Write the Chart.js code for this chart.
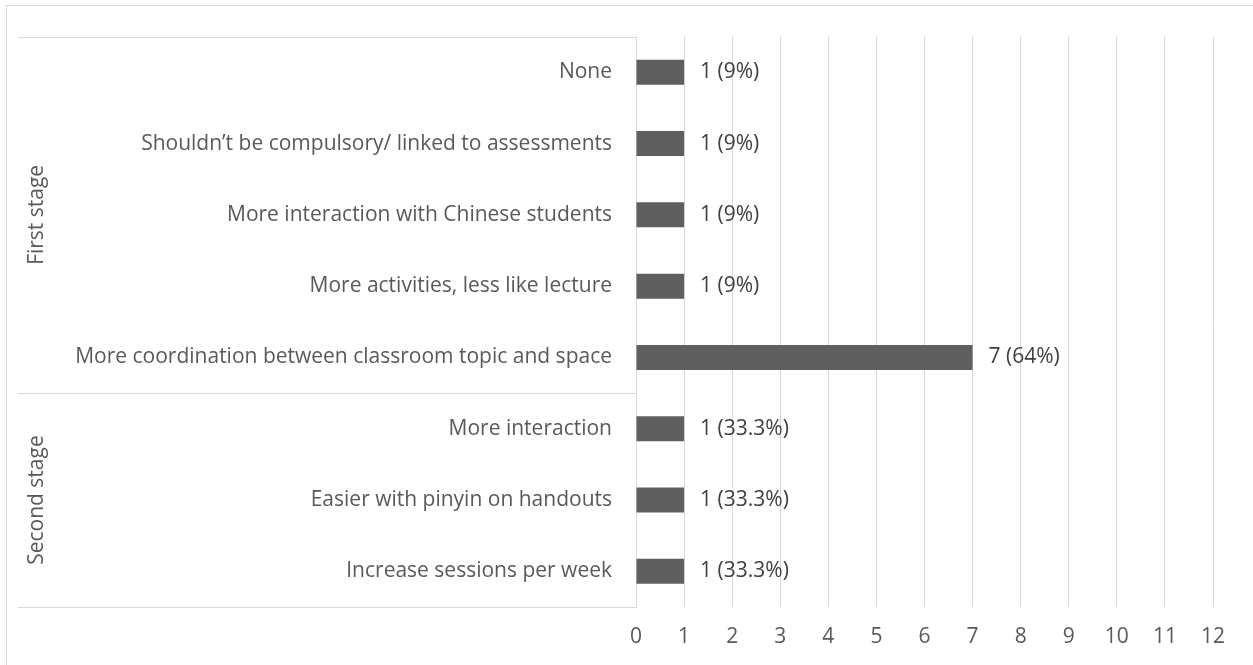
<!DOCTYPE html>
<html>
<head>
<meta charset="utf-8">
<script src="https://cdn.jsdelivr.net/npm/chart.js@4/dist/chart.umd.min.js"></script>
<style>
  html, body { margin: 0; padding: 0; background: #ffffff; }
  #wrap { position: relative; width: 1253px; height: 665px; }
</style>
</head>
<body>
<div id="wrap"><canvas id="chart" width="1253" height="665"></canvas></div>
<script>
// Chart data
const categories = [
    'None',
    'Shouldn\u2019t be compulsory/ linked to assessments',
    'More interaction with Chinese students',
    'More activities, less like lecture',
    'More coordination between classroom topic and space',
    'More interaction',
    'Easier with pinyin on handouts',
    'Increase sessions per week'
];
const counts = [1, 1, 1, 1, 7, 1, 1, 1];
const percents = ['9%', '9%', '9%', '9%', '64%', '33.3%', '33.3%', '33.3%'];
const groupNames = ['First stage', 'Second stage'];
const groupSizes = [5, 3];
const xTicks = [0, 1, 2, 3, 4, 5, 6, 7, 8, 9, 10, 11, 12];

const FONT = '"Open Sans", sans-serif';
const FONT_SIZE = 21;
const LINE = '#d9d9d9';

// Value labels at the bar ends
const valueLabels = {
    id: 'valueLabels',
    afterDatasetsDraw(chart) {
        const ctx = chart.ctx;
        const meta = chart.getDatasetMeta(0);
        ctx.save();
        ctx.font = FONT_SIZE + 'px ' + FONT;
        ctx.fillStyle = '#404040';
        ctx.textAlign = 'left';
        ctx.textBaseline = 'middle';
        meta.data.forEach((bar, i) => {
            ctx.fillText(counts[i] + ' (' + percents[i] + ')', bar.x + 16, bar.y);
        });
        ctx.restore();
    }
};

// Group brackets and rotated group names, plus the outer frame
const groupAxis = {
    id: 'groupAxis',
    afterDraw(chart) {
        const ctx = chart.ctx;
        const area = chart.chartArea;
        const catH = (area.bottom - area.top) / categories.length;
        ctx.save();
        ctx.strokeStyle = LINE;
        ctx.lineWidth = 1;

        // outer frame (right and bottom edges fall outside the picture)
        ctx.strokeRect(6.5, 5.5, 1260, 680);

        let idx = 0;
        const bounds = [area.top];
        groupSizes.forEach(n => { idx += n; bounds.push(area.top + idx * catH); });
        bounds.forEach(y => {
            const yy = Math.round(y) + 0.5;
            ctx.beginPath();
            ctx.moveTo(18, yy);
            ctx.lineTo(area.left, yy);
            ctx.stroke();
        });

        ctx.font = FONT_SIZE + 'px ' + FONT;
        ctx.fillStyle = '#595959';
        ctx.textAlign = 'center';
        ctx.textBaseline = 'middle';
        groupNames.forEach((name, g) => {
            const mid = (bounds[g] + bounds[g + 1]) / 2;
            ctx.save();
            ctx.translate(37, mid);
            ctx.rotate(-Math.PI / 2);
            ctx.fillText(name, 0, 0);
            ctx.restore();
        });
        ctx.restore();
    }
};

new Chart(document.getElementById('chart'), {
    type: 'bar',
    data: {
        labels: categories,
        datasets: [{
            label: 'Responses',
            data: counts,
            backgroundColor: '#5f5f5f',
            borderWidth: 0,
            barPercentage: 0.35,
            categoryPercentage: 1.0
        }]
    },
    options: {
        indexAxis: 'y',
        responsive: false,
        animation: false,
        layout: {
            padding: { top: 35, right: 40, left: 0, bottom: 0 }
        },
        plugins: {
            legend: { display: false },
            tooltip: { enabled: false }
        },
        scales: {
            x: {
                min: 0,
                max: 12,
                afterBuildTicks(scale) {
                    scale.ticks = xTicks.map(v => ({ value: v }));
                },
                afterFit(scale) { scale.height = 58; },
                ticks: {
                    color: '#595959',
                    font: { family: FONT, size: FONT_SIZE },
                    padding: 17,
                    maxRotation: 0
                },
                grid: { color: LINE, drawTicks: false },
                border: { display: false }
            },
            y: {
                afterFit(scale) { scale.width = 636; },
                ticks: {
                    color: '#595959',
                    font: { family: FONT, size: FONT_SIZE },
                    padding: 24
                },
                grid: { display: false, drawTicks: false },
                border: { display: true, color: LINE }
            }
        }
    },
    plugins: [valueLabels, groupAxis]
});
</script>
</body>
</html>
